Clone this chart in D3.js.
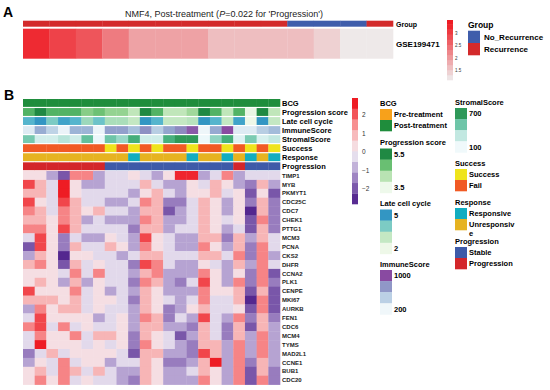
<!DOCTYPE html>
<html>
<head>
<meta charset="utf-8">
<script src="https://cdn.jsdelivr.net/npm/d3@7"></script>
<style>
  body { margin: 0; background: #fff; }
  text { font-family: Arial, "Liberation Sans", sans-serif; }
</style>
</head>
<body>
<div id="chart"></div>
<script>
// ---- panel A data
var groupA = ["Recurrence", "Recurrence", "Recurrence", "Recurrence", "Recurrence",
  "Recurrence", "Recurrence", "Recurrence", "Recurrence", "Recurrence",
  "No_Recurrence", "No_Recurrence", "No_Recurrence", "Recurrence"];
var scoreA = [3.2, 2.95, 2.75, 2.35, 1.95, 1.95, 1.95, 1.65, 1.65, 1.65, 1.65, 1.45, 1.2, 1.2];
var ticksA = [1.5, 2, 2.5, 3];

// ---- panel B data
var genes = ["TIMP1", "MYB", "PKMYT1", "CDC25C", "CDC7", "CHEK1", "PTTG1", "MCM3", "PCNA",
  "CKS2", "DHFR", "CCNA2", "PLK1", "CENPE", "MKI67", "AURKB", "FEN1", "CDC6", "MCM4",
  "TYMS", "MAD2L1", "CCNE1", "BUB1", "CDC20"];

var expr = [
  [0.3, 0.3, -1, -2, 1.6, 1.6, -1, -0.3, -0.3, 0.3, -0.3, -1, 0.3, 2.5, 2.5, -1, -0.3, 1.6, -1, -0.3, -0.3, -0.3],
  [2.2, 1, -0.3, 2.6, 0.3, -1, -1, -0.3, -0.3, -0.3, 1, -0.3, -1, -1, 0.3, -0.3, 1, 0.3, -1, -1.5, 1, -1],
  [1, 1, -0.3, 2.6, 0.3, -0.3, -0.3, -0.3, -0.3, -1, 0.3, 1, -0.3, -1, 0.3, 0.3, 1, -0.3, 0.3, -2, 0.3, -2],
  [2.2, 0.3, -0.3, 2.2, 1, -0.3, -0.3, -1, -1, -0.3, 1.6, 1, -1.5, -1.5, -0.3, 1, 0.3, -1, 0.3, -1.5, 1, -1.5],
  [1.6, 1, -0.3, 1.6, 1, 0.3, 1, -0.3, -0.3, -1, 1, 1, -2, -1, -0.3, 1, 0.3, -1, 0.3, -2.6, 1, -1.5],
  [1, 1, 0.3, 1.6, 1, -1, -0.3, -1, -1, -1, 1.6, 1, -1, -1, -0.3, 1, 0.3, -0.3, 0.3, -2, 1.6, -1.5],
  [1.6, 1.6, 0.3, 2.2, 1, -0.3, -0.3, -0.3, -0.3, -1.5, 1, 1, -1, -0.3, -0.3, 1, 0.3, -1, -0.3, -2, 1, -1.5],
  [-0.3, 2.2, 0.3, -1.5, -0.3, -1, -1, 0.3, -0.3, -1, 2.2, 0.3, -0.3, -1, -1, 1, 1, -1.5, 1, -1, 1, -0.3],
  [-2, 2.2, 0.3, -1.5, 1, -0.3, -0.3, 1, 0.3, -1, 1.6, 0.3, -0.3, -1, -1, 1.6, 0.3, -1, 1, -1.5, 1.6, -0.3],
  [-1, 1, 0.3, -2.6, 0.3, 0.3, -0.3, -0.3, -1, -0.3, 1, 1, -0.3, -0.3, -0.3, 1, 1, -0.3, 1.6, -1.5, 1.6, -1],
  [1, 1.6, 0.3, -2, 1, -0.3, 0.3, -0.3, -0.3, -1.5, 2.2, 1.6, -0.3, -1, -1, 0.3, -0.3, -1, 1, -1, 1.6, -0.3],
  [0.3, 0.3, 0.3, -0.3, 1.6, -0.3, 1.6, -0.3, -0.3, -1, 1, 1.6, -1, -1, -1, 1.6, 0.3, -1, 0.3, -1.5, 1.6, -2],
  [0.3, 1, 0.3, -1, 1, -1, 0.3, -0.3, -0.3, -1.5, 1.6, 1, -1, -1.5, -0.3, 2.2, 0.3, -1, 1.6, -1.5, 1.6, -1.5],
  [2.2, 0.3, 0.3, 0.3, 1.6, -0.3, 0.3, -1, -0.3, -1, 1, 0.3, -1, -1, -1, 1.6, 0.3, 0.3, 1, -2, 1, -2],
  [1, 1, 1, 0.3, 1, -0.3, 0.3, 0.3, -0.3, -1.5, 1, 0.3, -0.3, -1, -0.3, 1.6, -0.3, -0.3, 1, -2.6, 1.6, -2],
  [-1, 1.6, 0.3, 1, 1, -0.3, 0.3, -0.3, -0.3, -1, 1, 0.3, -1.5, -1, 0.3, 1, -0.3, -0.3, 0.3, -2, 1.6, -2],
  [-0.3, 2.2, 0.3, 0.3, 0.3, 0.3, -1, -0.3, 0.3, -1, 1.6, 1, -1.5, -0.3, -1, 2.2, -0.3, -1, 1.6, -1.5, 1, -1.5],
  [1.6, 2.2, -0.3, 1.6, -0.3, 0.3, -0.3, -0.3, 0.3, -1, 1, 1, -1, -1, -1.5, 1, -0.3, -1.5, 1, -2, 1, -1],
  [-0.3, 1.6, 0.3, 0.3, 1.6, -0.3, 1, 1, 0.3, -1.5, 1, 0.3, -0.3, -2, -1, 1, -0.3, -1.5, 1, -1, 1.6, -1],
  [-0.3, 2.6, 0.3, 0.3, 0.3, -0.3, 0.3, -0.3, 0.3, -1.5, 1.6, 0.3, -0.3, -1, -1.5, 1, 1, -1, 1.6, -1, 1.6, -1],
  [-1.5, -0.3, 1, -0.3, 0.3, 0.3, 0.3, 0.3, -0.3, -2, 1, 1, -1, -1, -1.5, 2.2, 1, -1, 1.6, -1, 1.6, -1],
  [-1, 0.3, -0.3, 1.6, -0.3, 0.3, 0.3, -1, -0.3, -0.3, 1, 0.3, -1.5, -1.5, -1, 1, 2.6, -1, 1.6, -1.5, 1, -1],
  [0.3, 1, -0.3, 1.6, 1, -0.3, 1, -0.3, -1, -1, 1, 0.3, -1, -1, -0.3, 1, 0.3, -1, 1.6, -2, 1, -1.5],
  [0.3, 1.6, 0.3, 1.6, -0.3, 0.3, -0.3, -0.3, -1, -1.5, 1, 0.3, -1, -1, -1, 1.6, 0.3, -1, 1.6, -2, 1.6, -1.5]
];

var bcg = ["Post-treatment", "Post-treatment", "Post-treatment", "Post-treatment", "Post-treatment",
  "Post-treatment", "Post-treatment", "Post-treatment", "Post-treatment", "Post-treatment",
  "Post-treatment", "Post-treatment", "Post-treatment", "Post-treatment", "Post-treatment",
  "Post-treatment", "Post-treatment", "Post-treatment", "Post-treatment", "Post-treatment",
  "Post-treatment", "Post-treatment"];
var progScore = [5.0, 5.5, 5.0, 5.0, 5.0, 4.6, 4.8, 4.5, 4.5, 4.1, 5.5, 5.0, 4.1, 4.1, 4.4, 5.5, 5.0, 4.1, 5.0, 3.6, 5.5, 4.1];
var lateCycle = [4.5, 5, 4, 4.8, 4.5, 3.6, 4.2, 3.4, 3.4, 3, 5, 4.5, 3, 3, 3.2, 5, 4.5, 3, 4.8, 2, 5, 3];
var immune = [300, 650, 450, 230, 620, 620, 220, 700, 700, 560, 760, 480, 680, 780, 950, 210, 660, 1000, 300, 300, 480, 580];
var stromal = [480, 250, 250, 330, 260, 530, 130, 500, 400, 620, 260, 260, 610, 700, 700, 120, 420, 620, 200, 470, 230, 300];
var success = ["Fail", "Fail", "Fail", "Fail", "Fail", "Fail", "Fail", "Success", "Fail", "Success", "Fail",
  "Success", "Fail", "Fail", "Success", "Fail", "Fail", "Success", "Fail", "Success", "Fail", "Success"];
var response = ["Unresponsive", "Unresponsive", "Unresponsive", "Unresponsive", "Unresponsive", "Unresponsive",
  "Unresponsive", "Unresponsive", "Unresponsive", "Responsive", "Unresponsive", "Unresponsive", "Unresponsive",
  "Unresponsive", "Responsive", "Unresponsive", "Unresponsive", "Responsive", "Unresponsive", "Responsive",
  "Unresponsive", "Responsive"];
var progression = ["Progression", "Progression", "Progression", "Progression", "Progression", "Progression",
  "Progression", "Stable", "Stable", "Stable", "Stable", "Stable", "Stable", "Stable", "Stable", "Stable",
  "Stable", "Stable", "Progression", "Stable", "Stable", "Stable"];
var ticksB = [2, 1, 0, -1, -2];

var width = 550,
  height = 390;

var svg = d3.select("#chart").append("svg")
  .attr("width", width)
  .attr("height", height);

// ================= panel A
svg.append("text").attr("x", 3).attr("y", 17)
  .style("font-size", "14px").style("font-weight", "bold").text("A");

var title = svg.append("text").attr("x", 224).attr("y", 17)
  .attr("text-anchor", "middle").style("font-size", "9px").attr("fill", "#222");
title.append("tspan").text("NMF4, Post-treatment (");
title.append("tspan").style("font-style", "italic").text("P");
title.append("tspan").text("=0.022 for 'Progression')");

var groupColor = { "No_Recurrence": "#3f5dab", "Recurrence": "#d32a2b" };
var xA = d3.scaleBand().domain(d3.range(scoreA.length)).range([23, 393]);
var colorA = d3.scaleLinear().domain([1.15, 3.35]).range(["#eeeeee", "#ee1c24"]).clamp(true);

svg.append("g").selectAll("rect").data(groupA).join("rect")
  .attr("x", (d, i) => xA(i)).attr("y", 20.7)
  .attr("width", xA.bandwidth() + 0.3).attr("height", 6)
  .attr("fill", d => groupColor[d]);

svg.append("g").selectAll("rect").data(scoreA).join("rect")
  .attr("x", (d, i) => xA(i)).attr("y", 28.7)
  .attr("width", xA.bandwidth() + 0.3).attr("height", 30)
  .attr("fill", d => colorA(d));

svg.append("text").attr("x", 396).attr("y", 26.5)
  .style("font-size", "7px").style("font-weight", "bold").text("Group");
svg.append("text").attr("x", 396).attr("y", 47)
  .style("font-size", "8px").style("font-weight", "bold").text("GSE199471");

// colour bar A
var yBarA = d3.scaleLinear().domain([1.14, 3.52]).range([80, 20]);
var stepsA = d3.range(1.14, 3.52, 0.2);
svg.append("g").selectAll("rect").data(stepsA).join("rect")
  .attr("x", 447).attr("width", 6)
  .attr("y", d => yBarA(Math.min(d + 0.2, 3.52)))
  .attr("height", d => yBarA(d) - yBarA(Math.min(d + 0.2, 3.52)) + 0.3)
  .attr("fill", d => colorA(d + 0.1));
svg.append("g").selectAll("text").data(ticksA).join("text")
  .attr("x", 455).attr("y", d => yBarA(d) + 1.5)
  .style("font-size", "4.5px").attr("fill", "#333").text(d => d);

// group legend
svg.append("text").attr("x", 468).attr("y", 28)
  .style("font-size", "8.5px").style("font-weight", "bold").text("Group");
var groupKeys = ["No_Recurrence", "Recurrence"];
svg.append("g").selectAll("rect").data(groupKeys).join("rect")
  .attr("x", 468).attr("y", (d, i) => 30.7 + i * 12.3)
  .attr("width", 12).attr("height", 12.3)
  .attr("fill", d => groupColor[d]);
svg.append("g").selectAll("text").data(groupKeys).join("text")
  .attr("x", 484).attr("y", (d, i) => 39.5 + i * 12.3)
  .style("font-size", "8px").style("font-weight", "bold").text(d => d);

// ================= panel B
svg.append("text").attr("x", 4).attr("y", 100)
  .style("font-size", "14px").style("font-weight", "bold").text("B");

var xB = d3.scaleBand().domain(d3.range(expr[0].length)).range([23, 280]);

var colorProg = d3.scaleSequential(t => d3.interpolateGreens(0.06 + 0.7 * t)).domain([3.5, 5.5]).clamp(true);
var colorLate = d3.scaleSequential(t => d3.interpolateGnBu(0.05 + 0.67 * t)).domain([2, 5]).clamp(true);
var colorImm = d3.scaleSequential(t => d3.interpolateBuPu(0.04 + 0.68 * t)).domain([200, 1000]).clamp(true);
var colorStr = d3.scaleSequential(t => d3.interpolateBuGn(0.05 + 0.65 * t)).domain([100, 700]).clamp(true);
var bcgColor = { "Pre-treatment": "#f7a11b", "Post-treatment": "#1f8d3c" };
var successColor = { "Success": "#efe41c", "Fail": "#f15a24" };
var responseColor = { "Responsive": "#12adc0", "Unresponsive": "#e6b321" };
var progColor = { "Stable": "#3e5aa8", "Progression": "#d3262a" };

var annos = [
  { name: "BCG", values: bcg, color: d => bcgColor[d] },
  { name: "Progression score", values: progScore, color: colorProg },
  { name: "Late cell cycle", values: lateCycle, color: colorLate },
  { name: "ImmuneScore", values: immune, color: colorImm },
  { name: "StromalScore", values: stromal, color: colorStr },
  { name: "Success", values: success, color: d => successColor[d] },
  { name: "Response", values: response, color: d => responseColor[d] },
  { name: "Progression", values: progression, color: d => progColor[d] }
];

var yAnno = d3.scaleBand().domain(annos.map(a => a.name)).range([99, 170.2]).paddingInner(0.13);

var annoG = svg.append("g");
annos.forEach(function (a) {
  annoG.append("g").selectAll("rect").data(a.values).join("rect")
    .attr("x", (d, i) => xB(i)).attr("y", yAnno(a.name))
    .attr("width", xB.bandwidth() + 0.3).attr("height", yAnno.bandwidth())
    .attr("fill", d => a.color(d));
});
svg.append("g").selectAll("text").data(annos).join("text")
  .attr("x", 282).attr("y", d => yAnno(d.name) + yAnno.bandwidth() / 2 + 2.7)
  .style("font-size", "7.5px").style("font-weight", "bold").text(d => d.name);

// expression heatmap
var yGene = d3.scaleBand().domain(genes).range([171, 384.6]);
var exprColor = d3.scaleLinear()
  .domain([-2.6, -1.3, 0, 1.3, 2.6])
  .range(["#54278f", "#a48cc7", "#f4f0f6", "#f8a3a3", "#ee1c24"])
  .clamp(true);

var cells = [];
expr.forEach(function (row, r) {
  row.forEach(function (v, c) { cells.push({ gene: genes[r], col: c, value: v }); });
});
svg.append("g").selectAll("rect").data(cells).join("rect")
  .attr("x", d => xB(d.col)).attr("y", d => yGene(d.gene))
  .attr("width", xB.bandwidth() + 0.3).attr("height", yGene.bandwidth() + 0.3)
  .attr("fill", d => exprColor(d.value));

svg.append("g").selectAll("text").data(genes).join("text")
  .attr("x", 282).attr("y", d => yGene(d) + yGene.bandwidth() / 2 + 2.2)
  .style("font-size", "6px").style("font-weight", "bold").attr("fill", "#222").text(d => d);

// colour bar B
var yBarB = d3.scaleLinear().domain([-2.82, 2.92]).range([204, 98]);
var stepsB = d3.range(-2.82, 2.92, 0.574);
svg.append("g").selectAll("rect").data(stepsB).join("rect")
  .attr("x", 352).attr("width", 6)
  .attr("y", d => yBarB(Math.min(d + 0.574, 2.92)))
  .attr("height", d => yBarB(d) - yBarB(Math.min(d + 0.574, 2.92)) + 0.3)
  .attr("fill", d => exprColor(d + 0.287));
svg.append("g").selectAll("text").data(ticksB).join("text")
  .attr("x", 362).attr("y", d => yBarB(d) + 2.3)
  .style("font-size", "6.5px").attr("fill", "#333")
  .text(d => d < 0 ? "\u2212" + Math.abs(d) : d);

// legends
function legendTitle(x, y, t) {
  svg.append("text").attr("x", x).attr("y", y)
    .style("font-size", "7.5px").style("font-weight", "bold").text(t);
}

function catLegend(x, y, t, keys, colors, labels) {
  legendTitle(x, y, t);
  var g = svg.append("g");
  g.selectAll("rect").data(keys).join("rect")
    .attr("x", x).attr("y", (d, i) => y + 3.5 + i * 11)
    .attr("width", 12).attr("height", 11.3)
    .attr("fill", d => colors[d]);
  g.selectAll("text").data(labels || keys).join("text")
    .attr("x", x + 14).attr("y", (d, i) => y + 11.8 + i * 11)
    .style("font-size", "7.5px").style("font-weight", "bold").text(d => d);
}

function contLegend(x, y, t, scale, blocks, labels) {
  legendTitle(x, y, t);
  var g = svg.append("g");
  g.selectAll("rect").data(blocks).join("rect")
    .attr("x", x).attr("y", (d, i) => y + 3.5 + i * 11.1)
    .attr("width", 12).attr("height", 11.4)
    .attr("fill", d => scale(d));
  g.selectAll("text").data(labels).join("text")
    .attr("x", x + 14)
    .attr("y", (d, i) => y + 3.5 + (i === 0 ? 0 : (blocks.length - 1) * 11.1) + 8.2)
    .style("font-size", "7.5px").style("font-weight", "bold").text(d => d);
}

var progBlocks = [5.5, 4.83, 4.17, 3.5];
var lateBlocks = [5, 4, 3, 2];
var immBlocks = [1000, 733, 467, 200];
var strBlocks = [700, 500, 300, 100];

catLegend(380, 105.5, "BCG", ["Pre-treatment", "Post-treatment"], bcgColor);
contLegend(380, 145, "Progression score", colorProg, progBlocks, ["5.5", "3.5"]);
contLegend(380, 206, "Late cell cycle", colorLate, lateBlocks, ["5", "2"]);
contLegend(380, 266.5, "ImmuneScore", colorImm, immBlocks, ["1000", "200"]);

contLegend(455, 104.5, "StromalScore", colorStr, strBlocks, ["700", "100"]);
catLegend(455, 165.5, "Success", ["Success", "Fail"], successColor);
// long label wraps onto a second line as in the original figure
catLegend(455, 204.5, "Response", ["Responsive", "Unresponsive"], responseColor, ["Responsive", "Unresponsiv"]);
svg.append("text").attr("x", 469).attr("y", 235.5)
  .style("font-size", "7.5px").style("font-weight", "bold").text("e");
catLegend(455, 243.5, "Progression", ["Stable", "Progression"], progColor);
</script>
</body>
</html>
